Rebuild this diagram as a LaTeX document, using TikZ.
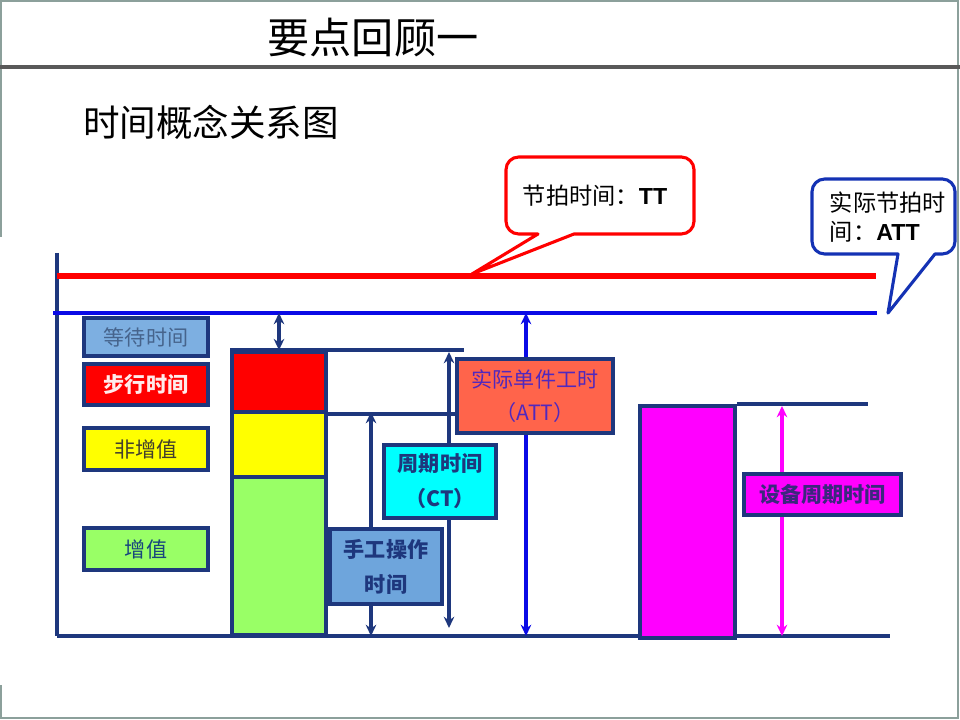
\documentclass[tikz,border=0pt]{standalone}
\usepackage{fontspec}
\setmainfont{Noto Sans CJK SC}
\newfontfamily\arialfont{Liberation Sans}
\usepackage{tikz}
\usetikzlibrary{arrows,arrows.meta,positioning,calc}
\usepackage{xcolor}
\definecolor{navy}{RGB}{30,55,125}
\definecolor{lineblue}{RGB}{10,10,230}
\definecolor{pured}{RGB}{255,0,0}
\definecolor{puyellow}{RGB}{255,255,0}
\definecolor{pucyan}{RGB}{0,255,255}
\definecolor{pumagenta}{RGB}{255,0,255}
\definecolor{waitblue}{RGB}{125,175,225}
\definecolor{waittext}{RGB}{70,100,140}
\definecolor{valuegreen}{RGB}{153,255,102}
\definecolor{handblue}{RGB}{110,165,220}
\definecolor{attred}{RGB}{255,100,75}
\definecolor{atttext}{RGB}{80,40,190}
\definecolor{calloutblue}{RGB}{20,50,180}
\definecolor{framegray}{RGB}{140,160,155}

\begin{document}
\begin{tikzpicture}[x=0.025cm,y=-0.025cm,>={Stealth[length=8pt,width=7.5pt]},
  box/.style={draw=navy,line width=2.6pt,inner sep=0pt,align=center,
    font=\fontsize{15}{25}\selectfont\bfseries},
  legend/.style={box,minimum width=3.1cm},
  seg/.style={draw=navy,line width=2.6pt,inner sep=0pt,minimum width=2.35cm},
  rule/.style={draw=navy,line width=2.6pt},
  dimarrow/.style={<->,draw=navy,line width=2.4pt}]
  \useasboundingbox (0,0) rectangle (960,720);

  % 页面
  \draw[framegray,line width=1.5pt] (1,237) -- (1,1) -- (958,1) -- (958,718) -- (1,718) -- (1,685);
  \draw[black!65,line width=2.2pt] (0,67) -- (960,67);
  \node (title) at (373,38) {\fontsize{30}{34}\selectfont 要点回顾一};
  \node (subtitle) at (211,122) {\fontsize{26}{30}\selectfont 时间概念关系图};

  % 线
  \coordinate (axtop) at (57,253);
  \coordinate (axbot) at (57,636);
  \coordinate (baseR) at (890,636);
  \coordinate (ttL) at (57,276);
  \coordinate (ttR) at (876,276);
  \coordinate (attL) at (53,313);
  \coordinate (attR) at (877,313);
  \draw[navy,line width=2.2pt] (axtop) -- (axbot);
  \draw[rule] (axbot) -- (baseR);
  \draw[pured,line width=3.6pt] (ttL) -- (ttR);
  \draw[lineblue,line width=2.8pt] (attL) -- (attR);

  % 箭头
  \coordinate (ctT) at (371,412);
  \coordinate (ctB) at (371,636);
  \coordinate (wkT) at (449,352);
  \coordinate (wkB) at (449,628);
  \coordinate (attT) at (526,313);
  \coordinate (attB) at (526,636);
  \coordinate (mcT) at (782,406);
  \coordinate (mcB) at (782,636);
  \draw[dimarrow] (ctT) -- (ctB);
  \draw[dimarrow] (wkT) -- (wkB);
  \draw[dimarrow,draw=lineblue] (attT) -- (attB);
  \draw[dimarrow,draw=pumagenta] (mcT) -- (mcB);

  % 图例
  \node[legend,minimum height=0.95cm,fill=waitblue,text=waittext,
    font=\fontsize{15}{25}\selectfont] (wait) at (146,337) {等待时间};
  \node[legend,minimum height=1.025cm,fill=pured,text=pured!8] (walk) at (146,384.5) {步行时间};
  \node[legend,minimum height=1.05cm,fill=puyellow,text=black!70!olive,
    font=\fontsize{15}{25}\selectfont] (nonvalue) at (146,449) {非增值};
  \node[legend,minimum height=1.05cm,fill=valuegreen,text=navy!80!teal,
    font=\fontsize{15}{25}\selectfont] (value) at (146,549) {增值};

  % 柱
  \node[seg,fill=pured,minimum height=1.5cm] (barwalk) at (279,382) {};
  \node[seg,fill=puyellow,minimum height=1.625cm] (barnon) at (279,444.5) {};
  \node[seg,fill=valuegreen,minimum height=3.95cm] (barval) at (279,556) {};
  \node[seg,fill=pumagenta,minimum width=2.375cm,minimum height=5.8cm] (mcbar) at (687.5,522) {};

  % 说明框
  \node[box,fill=attred,text=atttext,minimum width=3.9cm,minimum height=1.85cm,
    font=\fontsize{15}{24}\selectfont] (attbox) at (535,396) {实际单件工时\\（ATT）};
  \node[box,fill=pucyan,text=navy,minimum width=2.8cm,minimum height=1.825cm] (ctbox) at (440,481.5) {周期时间\\（CT）};
  \node[box,fill=handblue,text=navy,minimum width=2.8cm,minimum height=1.875cm] (handbox) at (386,566.5) {手工操作\\时间};
  \node[box,fill=pumagenta,text=navy!70!violet,minimum width=3.925cm,minimum height=1.025cm] (mcbox) at (822.5,494.5) {设备周期时间};

  \coordinate (topR) at (464,352);
  \coordinate (mcR) at (868,406);
  \draw[rule] (barwalk.north west) -- (barwalk.north west -| topR);
  \draw[rule] (barwalk.south east) -- (attbox.west |- barwalk.south east);
  \draw[rule] (mcbar.north east) -- (mcbar.north east -| mcR);
  \draw[dimarrow] (barwalk.north |- attL) -- (barwalk.north);

  % 标注
  \node (tt) at (595,196) {\fontsize{16.5}{20}\selectfont 节拍时间：{\arialfont\bfseries TT}};
  \draw[pured,line width=2.2pt,line join=round] (538,234) -- (472,274) -- (574,234)
    [rounded corners=9pt] -- (694,234) -- (694,157) -- (506,157) -- (506,234) [sharp corners] -- cycle;
  \node[align=left,anchor=west,font=\fontsize{16.5}{20.6}\selectfont] (att) at (825,217)
    {实际节拍时\\间：{\arialfont\bfseries ATT}};
  \draw[calloutblue,line width=2.2pt,line join=round] (898,254) -- (888,313) -- (935,254)
    [rounded corners=9pt] -- (955,254) -- (955,179) -- (812,179) -- (812,254) [sharp corners] -- cycle;
\end{tikzpicture}
\end{document}
